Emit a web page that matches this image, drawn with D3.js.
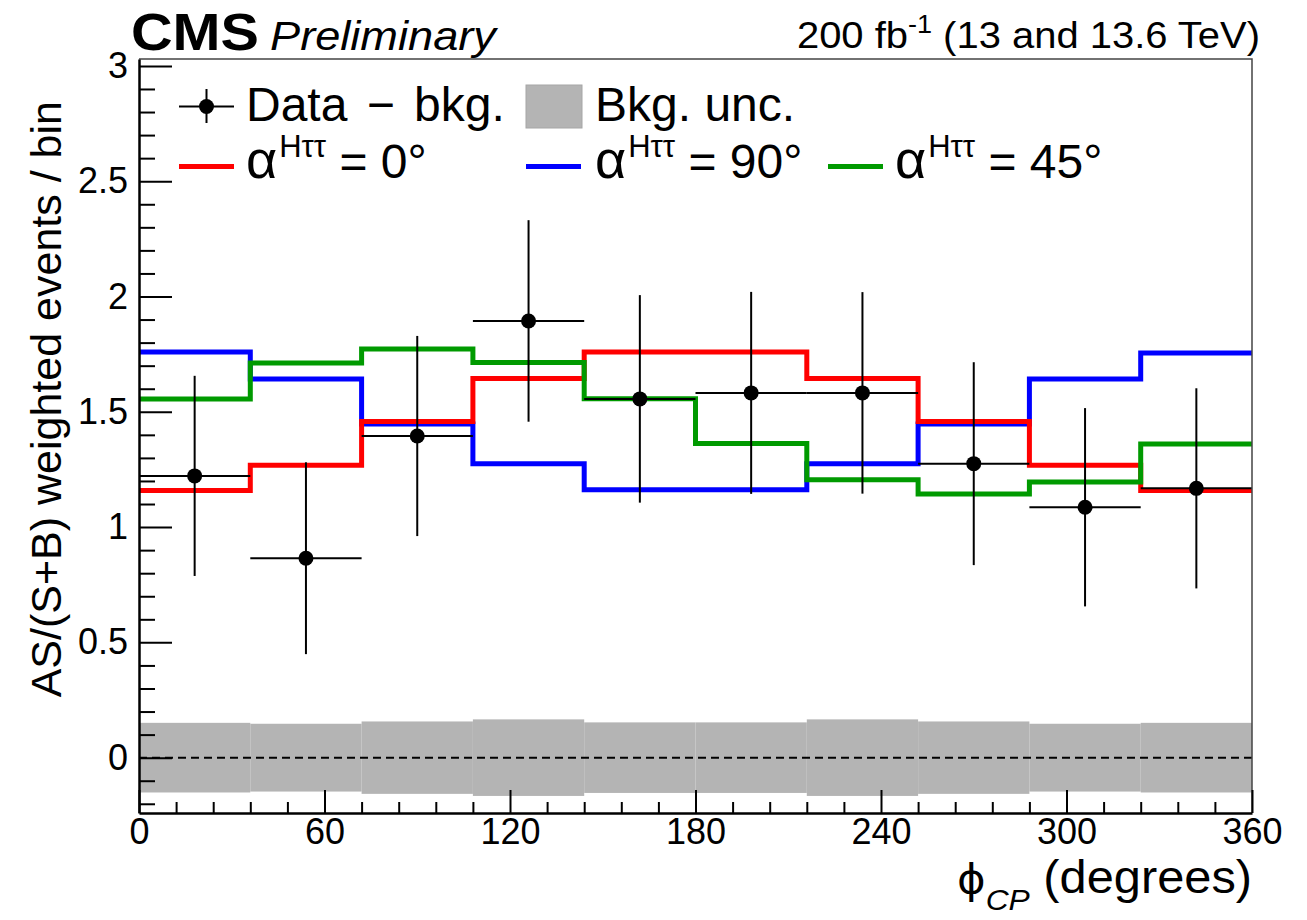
<!DOCTYPE html>
<html>
<head>
<meta charset="utf-8">
<script src="https://cdn.jsdelivr.net/npm/d3@7"></script>
<style>
  html, body { margin: 0; padding: 0; background: #fff; }
  svg { display: block; font-family: "Liberation Sans", Arial, Helvetica, sans-serif; }
</style>
</head>
<body>
<script>
/* DATA */
const binEdges = [0, 36, 72, 108, 144, 180, 216, 252, 288, 324, 360];
const dataVals = [1.222, 0.865, 1.395, 1.894, 1.556, 1.582, 1.582, 1.275, 1.086, 1.168];
const dataErrs = [0.434, 0.416, 0.434, 0.437, 0.450, 0.438, 0.437, 0.440, 0.430, 0.434];
const bkgUnc = [0.151, 0.147, 0.157, 0.166, 0.153, 0.153, 0.166, 0.157, 0.147, 0.151];
const alpha0 = [1.159, 1.268, 1.458, 1.644, 1.759, 1.759, 1.644, 1.458, 1.268, 1.159];
const alpha90 = [1.759, 1.642, 1.447, 1.275, 1.162, 1.162, 1.275, 1.447, 1.642, 1.755];
const alpha45 = [1.555, 1.712, 1.772, 1.714, 1.557, 1.363, 1.205, 1.143, 1.196, 1.360];
const xMajor = [0, 60, 120, 180, 240, 300, 360];
const xMinor = [12, 24, 36, 48, 72, 84, 96, 108, 132, 144, 156, 168, 192, 204, 216, 228,
                252, 264, 276, 288, 312, 324, 336, 348];
const yMajor = [0, 0.5, 1, 1.5, 2, 2.5, 3];
const yMinor = [-0.2, -0.1, 0.1, 0.2, 0.3, 0.4, 0.6, 0.7, 0.8, 0.9, 1.1, 1.2, 1.3, 1.4,
                1.6, 1.7, 1.8, 1.9, 2.1, 2.2, 2.3, 2.4, 2.6, 2.7, 2.8, 2.9];

/* CONSTANTS */
const WIDTH = 1307;
const HEIGHT = 920;
const LEFT = 139, RIGHT = 1252, TOP = 59, BOTTOM = 813;
const RED = "#ff0000", BLUE = "#0000ff", GREEN = "#009a00", GREY = "#b4b4b4";

const svg = d3.select("body")
    .append("svg")
    .attr("width", WIDTH)
    .attr("height", HEIGHT);

const x = d3.scaleLinear().domain([0, 360]).range([LEFT, RIGHT]);
const y = d3.scaleLinear().domain([-0.24, 3.03]).range([BOTTOM, TOP]);

const bins = dataVals.map((v, i) => ({
    lo: binEdges[i], hi: binEdges[i + 1], mid: (binEdges[i] + binEdges[i + 1]) / 2,
    val: v, err: dataErrs[i], unc: bkgUnc[i]
}));

// background uncertainty band
svg.append("g").selectAll("rect")
    .data(bins)
    .enter()
    .append("rect")
    .attr("x", d => x(d.lo))
    .attr("width", d => x(d.hi) - x(d.lo))
    .attr("y", d => y(d.unc))
    .attr("height", d => y(-d.unc) - y(d.unc))
    .attr("fill", GREY);

// zero line
svg.append("line")
    .attr("x1", x(0)).attr("x2", x(360))
    .attr("y1", y(0)).attr("y2", y(0))
    .attr("stroke", "#000")
    .attr("stroke-width", 2)
    .attr("stroke-dasharray", "8,5");

// step histograms
const step = d3.line()
    .x(d => x(d[0]))
    .y(d => y(d[1]))
    .curve(d3.curveStepAfter);

[[alpha90, BLUE], [alpha0, RED], [alpha45, GREEN]].forEach(([vals, col]) => {
    const pts = binEdges.map((e, i) => [e, vals[Math.min(i, vals.length - 1)]]);
    svg.append("path")
        .attr("d", step(pts))
        .attr("fill", "none")
        .attr("stroke", col)
        .attr("stroke-width", 5);
});

// data points
const pts = svg.append("g");
pts.selectAll("line.h")
    .data(bins).enter().append("line")
    .attr("x1", d => x(d.lo)).attr("x2", d => x(d.hi))
    .attr("y1", d => y(d.val)).attr("y2", d => y(d.val))
    .attr("stroke", "#000").attr("stroke-width", 2);
pts.selectAll("line.v")
    .data(bins).enter().append("line")
    .attr("x1", d => x(d.mid)).attr("x2", d => x(d.mid))
    .attr("y1", d => y(d.val + d.err)).attr("y2", d => y(d.val - d.err))
    .attr("stroke", "#000").attr("stroke-width", 2);
pts.selectAll("circle")
    .data(bins).enter().append("circle")
    .attr("cx", d => x(d.mid)).attr("cy", d => y(d.val))
    .attr("r", 7.5).attr("fill", "#000");

// frame top / right
svg.append("path")
    .attr("d", `M${LEFT},${TOP}H${RIGHT}V${BOTTOM}`)
    .attr("fill", "none")
    .attr("stroke", "#444")
    .attr("stroke-width", 1.5);

// axes
function styleAxis(g, fs) {
    g.attr("font-family", null).attr("font-size", fs);
    g.select(".domain").attr("stroke", "#000").attr("stroke-width", 2.5);
    g.selectAll(".tick line").attr("stroke", "#000").attr("stroke-width", 2);
    g.selectAll(".tick text").attr("fill", "#000");
}

svg.append("g")
    .attr("transform", `translate(0,${BOTTOM})`)
    .call(d3.axisBottom(x).tickValues(xMinor).tickSize(-11).tickSizeOuter(0).tickFormat(""))
    .call(g => { styleAxis(g, 36); g.select(".domain").remove(); });
svg.append("g")
    .attr("transform", `translate(0,${BOTTOM})`)
    .call(d3.axisBottom(x).tickValues(xMajor).tickSize(-23).tickSizeOuter(0).tickPadding(5)
        .tickFormat(d3.format("d")))
    .call(g => styleAxis(g, 36));

svg.append("g")
    .attr("transform", `translate(${LEFT},0)`)
    .call(d3.axisLeft(y).tickValues(yMinor).tickSize(-16).tickSizeOuter(0).tickFormat(""))
    .call(g => { styleAxis(g, 36); g.select(".domain").remove(); });
svg.append("g")
    .attr("transform", `translate(${LEFT},0)`)
    .call(d3.axisLeft(y).tickValues(yMajor).tickSize(-33).tickSizeOuter(0).tickPadding(11)
        .tickFormat(d => d3.format("")(d)))
    .call(g => styleAxis(g, 36));

// helper for text with horizontal stretch
function label(x0, y0, sx, anchor) {
    return svg.append("g")
        .attr("transform", `translate(${x0},${y0}) scale(${sx},1)`)
        .append("text")
        .attr("text-anchor", anchor)
        .attr("fill", "#000");
}

// header
label(131, 50, 1.13, "start").attr("font-size", 51).attr("font-weight", "bold").text("CMS");
label(270, 50, 1.13, "start").attr("font-size", 40).attr("font-style", "italic").text("Preliminary");
const lumi = label(1260, 48, 1.08, "end").attr("font-size", 37);
lumi.append("tspan").text("200 fb");
lumi.append("tspan").attr("font-size", 25).attr("dy", -15).text("-1");
lumi.append("tspan").attr("dy", 15).text(" (13 and 13.6 TeV)");

// axis titles
svg.append("text")
    .attr("transform", `translate(61,101) rotate(-90)`)
    .attr("text-anchor", "end")
    .attr("font-size", 43)
    .text("AS/(S+B) weighted events / bin");

const xt = label(1252, 893, 1.06, "end").attr("font-size", 46);
xt.append("tspan").attr("font-family", "DejaVu Sans").attr("font-size", 41).text("\u03D5");
xt.append("tspan").attr("font-size", 30).attr("font-style", "italic").attr("dy", 17).text("CP");
xt.append("tspan").attr("dy", -17).text(" (degrees)");

// legend
const leg = svg.append("g");
// data entry
leg.append("line").attr("x1", 179).attr("x2", 234).attr("y1", 106.5).attr("y2", 106.5)
    .attr("stroke", "#000").attr("stroke-width", 2);
leg.append("line").attr("x1", 206.5).attr("x2", 206.5).attr("y1", 89).attr("y2", 123)
    .attr("stroke", "#000").attr("stroke-width", 2);
leg.append("circle").attr("cx", 206.5).attr("cy", 106.5).attr("r", 7.5).attr("fill", "#000");
const dt = leg.append("text").attr("x", 246).attr("y", 121).attr("font-size", 48);
dt.append("tspan").text("Data");
dt.append("tspan").attr("dx", 6).text(" \u2212");
dt.append("tspan").attr("dx", 6).text(" bkg.");
// bkg unc entry
leg.append("rect").attr("x", 526).attr("y", 85).attr("width", 56).attr("height", 43)
    .attr("fill", GREY).attr("stroke", "#a6a6a6").attr("stroke-width", 1);
leg.append("text").attr("x", 595).attr("y", 121).attr("font-size", 48).text("Bkg. unc.");

const hypos = [
    { col: RED, x0: 179, tx: 246, deg: "0" },
    { col: BLUE, x0: 526, tx: 595, deg: "90" },
    { col: GREEN, x0: 828, tx: 895, deg: "45" }
];
hypos.forEach(h => {
    leg.append("line").attr("x1", h.x0).attr("x2", h.x0 + 55).attr("y1", 166.5).attr("y2", 166.5)
        .attr("stroke", h.col).attr("stroke-width", 5);
    const t = leg.append("text").attr("x", h.tx).attr("y", 178).attr("font-size", 48);
    t.append("tspan").attr("font-size", 54).text("\u03B1");
    t.append("tspan").attr("font-size", 31).attr("dy", -21).attr("dx", 2).text("H\u03C4\u03C4");
    t.append("tspan").attr("dy", 21).text(" = " + h.deg + "\u00B0");
});
</script>
</body>
</html>
